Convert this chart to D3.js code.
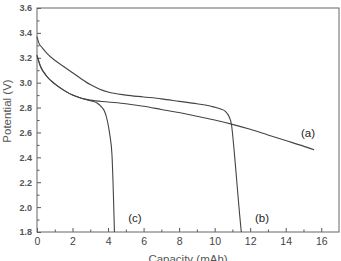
<!DOCTYPE html>
<html>
<head>
<meta charset="utf-8">
<script src="https://cdn.jsdelivr.net/npm/d3@7"></script>
<style>
  body { margin: 0; background: #fff; }
  svg { display: block; font-family: Arial, "Liberation Sans", sans-serif; }
</style>
</head>
<body>
<svg></svg>
<script>
var width = 341, height = 261;

// curve (a)
var capA = [0, 0.2, 0.5, 1, 1.5, 2, 2.5, 3, 4, 5, 6, 7, 8, 9, 10, 11, 12, 13, 14, 15, 15.6];
var volA = [3.22, 3.13, 3.06, 2.99, 2.94, 2.90, 2.875, 2.86, 2.845, 2.83, 2.81, 2.785, 2.76, 2.73, 2.70, 2.665, 2.625, 2.58, 2.535, 2.49, 2.46];

// curve (b)
var capB = [0, 0.1, 0.3, 0.6, 1, 1.5, 2, 2.5, 3, 3.5, 4, 5, 6, 7, 8, 9, 9.8, 10.3, 10.6, 10.8, 10.95, 11.1, 11.25, 11.4, 11.5];
var volB = [3.37, 3.32, 3.28, 3.23, 3.18, 3.13, 3.08, 3.03, 2.985, 2.95, 2.925, 2.90, 2.885, 2.87, 2.85, 2.83, 2.81, 2.79, 2.77, 2.73, 2.66, 2.45, 2.2, 1.95, 1.8];

// curve (c)
var capC = [0, 0.2, 0.5, 1, 1.5, 2, 2.5, 3, 3.4, 3.6, 3.8, 3.95, 4.1, 4.22, 4.36];
var volC = [3.22, 3.13, 3.06, 2.99, 2.94, 2.90, 2.875, 2.855, 2.835, 2.81, 2.77, 2.70, 2.58, 2.42, 1.8];

var xTicks = [0, 2, 4, 6, 8, 10, 12, 14, 16];
var yTicks = [1.8, 2.0, 2.2, 2.4, 2.6, 2.8, 3.0, 3.2, 3.4, 3.6];

var series = [
    {name: '(a)', cap: capA, vol: volA, lx: 308, ly: 137},
    {name: '(b)', cap: capB, vol: volB, lx: 262, ly: 222},
    {name: '(c)', cap: capC, vol: volC, lx: 135, ly: 222}
];

var margin = {left: 37, right: 2, top: 8, bottom: 29};

var x = d3.scaleLinear().domain([0, 17]).range([margin.left, width - margin.right]);
var y = d3.scaleLinear().domain([1.8, 3.6]).range([height - margin.bottom, margin.top]);

var svg = d3.select('svg')
            .attr('width', width)
            .attr('height', height);

// minor ticks (inside)
svg.append('g')
    .attr('transform', `translate(0,${y(1.8)})`)
    .call(d3.axisBottom(x).tickValues(d3.range(1, 17, 2)).tickSize(-2.5).tickFormat(''))
    .call(g => g.select('.domain').remove());
svg.append('g')
    .attr('transform', `translate(${x(0)},0)`)
    .call(d3.axisLeft(y).tickValues(d3.range(1.9, 3.6, 0.2)).tickSize(-2.5).tickFormat(''))
    .call(g => g.select('.domain').remove());

var xAxis = svg.append('g')
    .attr('transform', `translate(0,${y(1.8)})`)
    .call(d3.axisBottom(x).tickValues(xTicks).tickSize(-4).tickPadding(6).tickFormat(d3.format('d')));

var yAxis = svg.append('g')
    .attr('transform', `translate(${x(0)},0)`)
    .call(d3.axisLeft(y).tickValues(yTicks).tickSize(-4).tickPadding(5).tickFormat(d3.format('.1f')));

xAxis.selectAll('text').attr('font-size', 10.5).attr('fill', '#444');
yAxis.selectAll('text').attr('font-size', 9).attr('font-weight', 'bold').attr('fill', '#555');
svg.selectAll('.tick line').attr('stroke', '#555');
svg.selectAll('.domain').remove();

// frame
svg.append('rect')
    .attr('x', x(0))
    .attr('y', y(3.6))
    .attr('width', x(17) - x(0))
    .attr('height', y(1.8) - y(3.6))
    .attr('fill', 'none')
    .attr('stroke', '#666')
    .attr('stroke-width', 1);

var line = d3.line()
    .x(d => x(d[0]))
    .y(d => y(d[1]))
    .curve(d3.curveMonotoneX);

svg.append('g')
    .selectAll('path')
    .data(series)
    .enter()
    .append('path')
        .attr('d', d => line(d.cap.map((c, i) => [c, d.vol[i]])))
        .attr('fill', 'none')
        .attr('stroke', '#444')
        .attr('stroke-width', 1.1);

svg.append('g')
    .selectAll('text')
    .data(series)
    .enter()
    .append('text')
        .attr('x', d => d.lx)
        .attr('y', d => d.ly)
        .attr('text-anchor', 'middle')
        .attr('font-size', 11.5)
        .attr('fill', '#222')
        .text(d => d.name);

// axis titles
svg.append('text')
    .attr('x', 188)
    .attr('y', 263)
    .attr('text-anchor', 'middle')
    .attr('font-size', 11.5)
    .attr('fill', '#555')
    .text('Capacity (mAh)');

svg.append('text')
    .attr('transform', 'translate(11,111) rotate(-90)')
    .attr('text-anchor', 'middle')
    .attr('font-size', 11.5)
    .attr('fill', '#555')
    .text('Potential (V)');
</script>
</body>
</html>
